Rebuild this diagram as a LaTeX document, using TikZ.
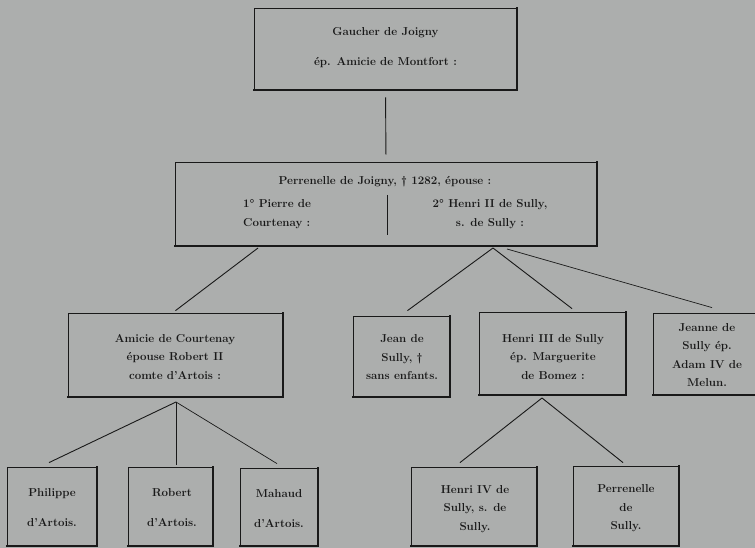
\documentclass[tikz,border=0pt]{standalone}
\usepackage{fontspec}
\definecolor{paper}{RGB}{172,174,173}
\definecolor{ink}{RGB}{25,25,25}
\tikzset{
  box/.style={draw=ink, line width=0.8pt, rectangle, inner sep=0pt, anchor=center},
  txt/.style={text=ink, font=\fontsize{11.5}{18.5}\selectfont\bfseries, align=center, inner sep=0pt},
  txtw/.style={text=ink, font=\fontsize{11.5}{30}\selectfont\bfseries, align=center, inner sep=0pt},
  link/.style={draw=ink, line width=0.9pt},
  shade/.style={draw=ink, line width=2pt, line cap=rect}
}
\begin{document}
\begin{tikzpicture}[x=1pt,y=-1pt]
\fill[paper] (0,0) rectangle (755,548);
\useasboundingbox (0,0) rectangle (755,548);
% boxes
\node[box, minimum width=263pt, minimum height=82pt] (b1) at (385.5,49) {};
\node[box, minimum width=422pt, minimum height=84pt] (b2) at (386,204) {};
\node[box, minimum width=215pt, minimum height=84pt] (amicie) at (175.5,355) {};
\node[box, minimum width=97pt, minimum height=81pt] (jean) at (401.5,356.5) {};
\node[box, minimum width=147pt, minimum height=83pt] (henri3) at (552.5,353.5) {};
\node[box, minimum width=108pt, minimum height=82pt] (jeanne) at (707,354) {};
\node[box, minimum width=90pt, minimum height=79pt] (phil) at (52,506.5) {};
\node[box, minimum width=85pt, minimum height=79pt] (robert) at (170.5,506.5) {};
\node[box, minimum width=78pt, minimum height=78pt] (mahaud) at (279,507) {};
\node[box, minimum width=126pt, minimum height=79pt] (henri4) at (474,506.5) {};
\node[box, minimum width=106pt, minimum height=80pt] (perr) at (626,506) {};
% thick right and bottom edges
\foreach \n in {b1,b2,amicie,jean,henri3,jeanne,phil,robert,mahaud,henri4,perr}
  \draw[shade] (\n.north east) -- (\n.south east) -- (\n.south west);
% texts
\node[txtw] (t1) at (385.5,48) {Gaucher de Joigny\\ép. Amicie de Montfort :};
\node[txt] (t2) at (385,182) {Perrenelle de Joigny, \dag\ 1282, épouse :};
\node[txt, align=left, anchor=west] (t2a) at (243,214) {1° Pierre de\\Courtenay :};
\node[txt] (t2b) at (490,214) {2° Henri II de Sully,\\s. de Sully :};
\node[txt] (tam) at (175,357) {Amicie de Courtenay\\épouse Robert II\\comte d'Artois :};
\node[txt] (tje) at (402,357.5) {Jean de\\Sully, \dag\\sans enfants.};
\node[txt] (th3) at (553,357) {Henri III de Sully\\ép. Marguerite\\de Bomez :};
\node[txt] (tjn) at (707,355) {Jeanne de\\Sully ép.\\Adam IV de\\Melun.};
\node[txtw] (tph) at (52,508) {Philippe\\d'Artois.};
\node[txtw] (tro) at (172,508) {Robert\\d'Artois.};
\node[txtw] (tma) at (279,509) {Mahaud\\d'Artois.};
\node[txt] (th4) at (475,509) {Henri IV de\\Sully, s. de\\Sully.};
\node[txt] (tpe) at (626,508.5) {Perrenelle\\de\\Sully.};
% divider in b2
\coordinate (d1) at (387,195);
\coordinate (d2) at (387,235);
\draw[link] (d1) -- (d2);
% fork points
\coordinate (f1) at (258,248);
\coordinate (f2) at (493,248);
\coordinate (f2b) at (507,249);
\coordinate (f3) at (176,402);
\coordinate (f4) at (542,398);
% connectors
\draw[link, shorten <=7pt, shorten >=7pt] (b1.south) -- (b2.north);
\draw[link] (f1) -- ([xshift=0pt,yshift=2pt]amicie.north);
\draw[link] (f2) -- ([xshift=6pt,yshift=5pt]jean.north);
\draw[link] (f2) -- ([xshift=19.5pt,yshift=3pt]henri3.north);
\draw[draw=ink, line width=0.7pt] (f2b) -- ([xshift=5pt,yshift=5pt]jeanne.north);
\draw[link] (f3) -- ([xshift=-3pt,yshift=4pt]phil.north);
\draw[link] (f3) -- ([xshift=5.5pt,yshift=2pt]robert.north);
\draw[draw=ink, line width=0.7pt] (f3) -- ([xshift=-2pt,yshift=4pt]mahaud.north);
\draw[link] (f4) -- ([xshift=-14pt,yshift=4pt]henri4.north);
\draw[link] (f4) -- ([xshift=-3pt,yshift=3pt]perr.north);
\end{tikzpicture}
\end{document}
